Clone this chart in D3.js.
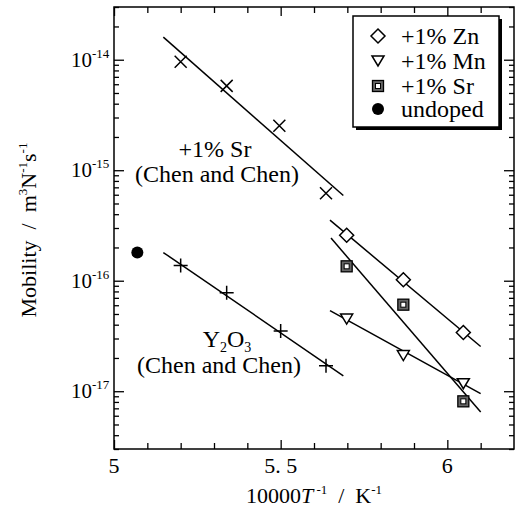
<!DOCTYPE html>
<html>
<head>
<meta charset="utf-8">
<script src="https://cdn.jsdelivr.net/npm/d3@7"></script>
<style>
  body { margin: 0; background: #fff; }
  text { font-family: "Liberation Serif", "Times New Roman", serif; fill: #000; white-space: pre; }
</style>
</head>
<body>
<script>
// data
var srChenX = [5.2, 5.338, 5.496, 5.636];
var srChenY = [9.6e-15, 5.8e-15, 2.53e-15, 6.2e-16];
var y2o3X = [5.2, 5.338, 5.5, 5.636];
var y2o3Y = [1.37e-16, 7.8e-17, 3.5e-17, 1.7e-17];
var dopedX = [5.698, 5.868, 6.048];
var znY = [2.58e-16, 1.02e-16, 3.4e-17];
var mnY = [4.5e-17, 2.1e-17, 1.17e-17];
var srY = [1.35e-16, 6.07e-17, 8.1e-18];
var undopedX = [5.07];
var undopedY = [1.8e-16];
// fitted lines, [x0, y0, x1, y1]
var fitSrChen = [5.148, 1.6e-14, 5.688, 5.9e-16];
var fitY2O3 = [5.148, 1.8e-16, 5.688, 1.38e-17];
var fitZn = [5.648, 3.53e-16, 6.1, 2.54e-17];
var fitMn = [5.648, 5.36e-17, 6.1, 9.5e-18];
var fitSr = [5.651, 2.43e-16, 6.1, 6.5e-18];

var xMajor = [5, 5.5, 6];
var xMajorLabels = ["5", "5. 5", "6"];
var yMajorExp = [-14, -15, -16, -17];
var legendLabels = ["+1% Zn", "+1% Mn", "+1% Sr", "undoped"];

var W = 515, H = 511;
var mLeft = 114, mRight = 514, mTop = 7, mBottom = 449;

var svg = d3.select("body").append("svg")
    .attr("width", W).attr("height", H);

var x = d3.scaleLinear().domain([5, 6.2]).range([mLeft, mRight]);
var y = d3.scaleLog().domain([3e-18, 3e-14]).range([mBottom, mTop]);

// minor ticks
var xMinor = d3.range(50, 62).map(function(d) { return d / 10; }).filter(function(d) { return xMajor.indexOf(d) < 0; });
var yMinor = [];
[-18, -17, -16, -15, -14].forEach(function(e) {
  for (var k = 2; k <= 9; k++) {
    var v = k * Math.pow(10, e);
    if (v >= 3e-18 && v <= 3e-14) yMinor.push(v);
  }
});
var yMajor = yMajorExp.map(function(e) { return Math.pow(10, e); });

function styleAxis(g) {
  g.select(".domain").remove();
  g.selectAll("line").attr("stroke", "#000").attr("stroke-width", 1.3);
}

// bottom
svg.append("g").attr("transform", "translate(0," + mBottom + ")")
  .call(d3.axisBottom(x).tickValues(xMajor).tickSize(-9).tickFormat("")).call(styleAxis);
svg.append("g").attr("transform", "translate(0," + mBottom + ")")
  .call(d3.axisBottom(x).tickValues(xMinor).tickSize(-6).tickFormat("")).call(styleAxis);
// top
svg.append("g").attr("transform", "translate(0," + mTop + ")")
  .call(d3.axisTop(x).tickValues(xMajor).tickSize(-9).tickFormat("")).call(styleAxis);
svg.append("g").attr("transform", "translate(0," + mTop + ")")
  .call(d3.axisTop(x).tickValues(xMinor).tickSize(-6).tickFormat("")).call(styleAxis);
// left
svg.append("g").attr("transform", "translate(" + mLeft + ",0)")
  .call(d3.axisLeft(y).tickValues(yMajor).tickSize(-10).tickFormat("")).call(styleAxis);
svg.append("g").attr("transform", "translate(" + mLeft + ",0)")
  .call(d3.axisLeft(y).tickValues(yMinor).tickSize(-5).tickFormat("")).call(styleAxis);
// right
svg.append("g").attr("transform", "translate(" + mRight + ",0)")
  .call(d3.axisRight(y).tickValues(yMajor).tickSize(-10).tickFormat("")).call(styleAxis);
svg.append("g").attr("transform", "translate(" + mRight + ",0)")
  .call(d3.axisRight(y).tickValues(yMinor).tickSize(-5).tickFormat("")).call(styleAxis);

// frame
svg.append("rect")
  .attr("x", mLeft).attr("y", mTop)
  .attr("width", mRight - mLeft).attr("height", mBottom - mTop)
  .attr("fill", "none").attr("stroke", "#000").attr("stroke-width", 1.5);

// x tick labels
svg.selectAll(".xlab").data(xMajor).enter().append("text")
  .attr("x", function(d) { return x(d); })
  .attr("y", 473)
  .attr("text-anchor", "middle")
  .style("font-size", "22px")
  .text(function(d, i) { return xMajorLabels[i]; });

// y tick labels
var ylab = svg.selectAll(".ylab").data(yMajorExp).enter().append("text")
  .attr("x", 71)
  .attr("y", function(d) { return y(Math.pow(10, d)) + 7; })
  .style("font-size", "21px");
ylab.append("tspan").text("10");
ylab.append("tspan").attr("dy", -9).style("font-size", "13px").text(function(d) { return d; });

// axis titles
var xt = svg.append("text").attr("x", 314).attr("y", 503)
  .attr("text-anchor", "middle").style("font-size", "22px");
xt.append("tspan").text("10000");
xt.append("tspan").style("font-style", "italic").text("T");
xt.append("tspan").attr("dy", -9).style("font-size", "13px").text(" -1");
xt.append("tspan").attr("dy", 9).text("  /  K");
xt.append("tspan").attr("dy", -9).style("font-size", "13px").text("-1");

var yt = svg.append("text")
  .attr("transform", "translate(36,230) rotate(-90)")
  .attr("text-anchor", "middle").style("font-size", "22px");
yt.append("tspan").text("Mobility  /  m");
yt.append("tspan").attr("dy", -9).style("font-size", "13px").text("3");
yt.append("tspan").attr("dy", 9).text("N");
yt.append("tspan").attr("dy", -9).style("font-size", "13px").text("-1");
yt.append("tspan").attr("dy", 9).text("s");
yt.append("tspan").attr("dy", -9).style("font-size", "13px").text("-1");

// fit lines
[fitSrChen, fitY2O3, fitZn, fitMn, fitSr].forEach(function(f) {
  svg.append("line")
    .attr("x1", x(f[0])).attr("y1", y(f[1]))
    .attr("x2", x(f[2])).attr("y2", y(f[3]))
    .attr("stroke", "#000").attr("stroke-width", 1.5);
});

// symbol drawing helpers
function drawCross(g, cx, cy) {
  var s = 6;
  g.append("path").attr("d", "M" + (cx - s) + "," + (cy - s) + "L" + (cx + s) + "," + (cy + s) +
    "M" + (cx - s) + "," + (cy + s) + "L" + (cx + s) + "," + (cy - s))
    .attr("stroke", "#000").attr("stroke-width", 1.5);
}
function drawPlus(g, cx, cy) {
  var s = 7;
  g.append("path").attr("d", "M" + (cx - s) + "," + cy + "L" + (cx + s) + "," + cy +
    "M" + cx + "," + (cy - s) + "L" + cx + "," + (cy + s))
    .attr("stroke", "#000").attr("stroke-width", 1.5);
}
function drawDiamond(g, cx, cy) {
  var s = 7;
  g.append("path").attr("d", "M" + cx + "," + (cy - s) + "L" + (cx + s) + "," + cy +
    "L" + cx + "," + (cy + s) + "L" + (cx - s) + "," + cy + "Z")
    .attr("fill", "#fff").attr("stroke", "#000").attr("stroke-width", 1.5);
}
function drawTri(g, cx, cy) {
  g.append("path").attr("d", "M" + (cx - 6) + "," + (cy - 5) + "L" + (cx + 6) + "," + (cy - 5) +
    "L" + cx + "," + (cy + 5) + "Z")
    .attr("fill", "#fff").attr("stroke", "#000").attr("stroke-width", 1.5);
}
function drawSquare(g, cx, cy) {
  g.append("rect").attr("x", cx - 5.5).attr("y", cy - 5.5).attr("width", 11).attr("height", 11)
    .attr("fill", "#666").attr("stroke", "#000").attr("stroke-width", 1.3);
  g.append("rect").attr("x", cx - 2.5).attr("y", cy - 2.5).attr("width", 5).attr("height", 5)
    .attr("fill", "#fff").attr("stroke", "#000").attr("stroke-width", 1);
}
function drawDot(g, cx, cy) {
  g.append("circle").attr("cx", cx).attr("cy", cy).attr("r", 6).attr("fill", "#000");
}

var marks = svg.append("g");
srChenX.forEach(function(d, i) { drawCross(marks, x(d), y(srChenY[i])); });
y2o3X.forEach(function(d, i) { drawPlus(marks, x(d), y(y2o3Y[i])); });
dopedX.forEach(function(d, i) { drawDiamond(marks, x(d), y(znY[i])); });
dopedX.forEach(function(d, i) { drawTri(marks, x(d), y(mnY[i])); });
dopedX.forEach(function(d, i) { drawSquare(marks, x(d), y(srY[i])); });
undopedX.forEach(function(d, i) { drawDot(marks, x(d), y(undopedY[i])); });

// annotations
function note(cx, by, txt) {
  svg.append("text").attr("x", cx).attr("y", by)
    .attr("text-anchor", "middle").style("font-size", "24px").text(txt);
}
note(215, 157, "+1% Sr");
note(217, 182, "(Chen and Chen)");
note(219, 373, "(Chen and Chen)");
var yo = svg.append("text").attr("x", 227).attr("y", 347)
  .attr("text-anchor", "middle").style("font-size", "24px");
yo.append("tspan").text("Y");
yo.append("tspan").attr("dy", 5).style("font-size", "14px").text("2");
yo.append("tspan").attr("dy", -5).text("O");
yo.append("tspan").attr("dy", 5).style("font-size", "14px").text("3");

// legend
var lg = svg.append("g");
lg.append("rect").attr("x", 356).attr("y", 19).attr("width", 146).attr("height", 111).attr("fill", "#000");
lg.append("rect").attr("x", 353).attr("y", 16).attr("width", 146).attr("height", 111)
  .attr("fill", "#fff").attr("stroke", "#000").attr("stroke-width", 1.5);
var rowY = [36, 61, 86, 109];
var drawers = [drawDiamond, drawTri, drawSquare, drawDot];
legendLabels.forEach(function(l, i) {
  drawers[i](lg, 378, rowY[i]);
  lg.append("text").attr("x", 401).attr("y", rowY[i] + 8)
    .style("font-size", "24px").text(l);
});
</script>
</body>
</html>
